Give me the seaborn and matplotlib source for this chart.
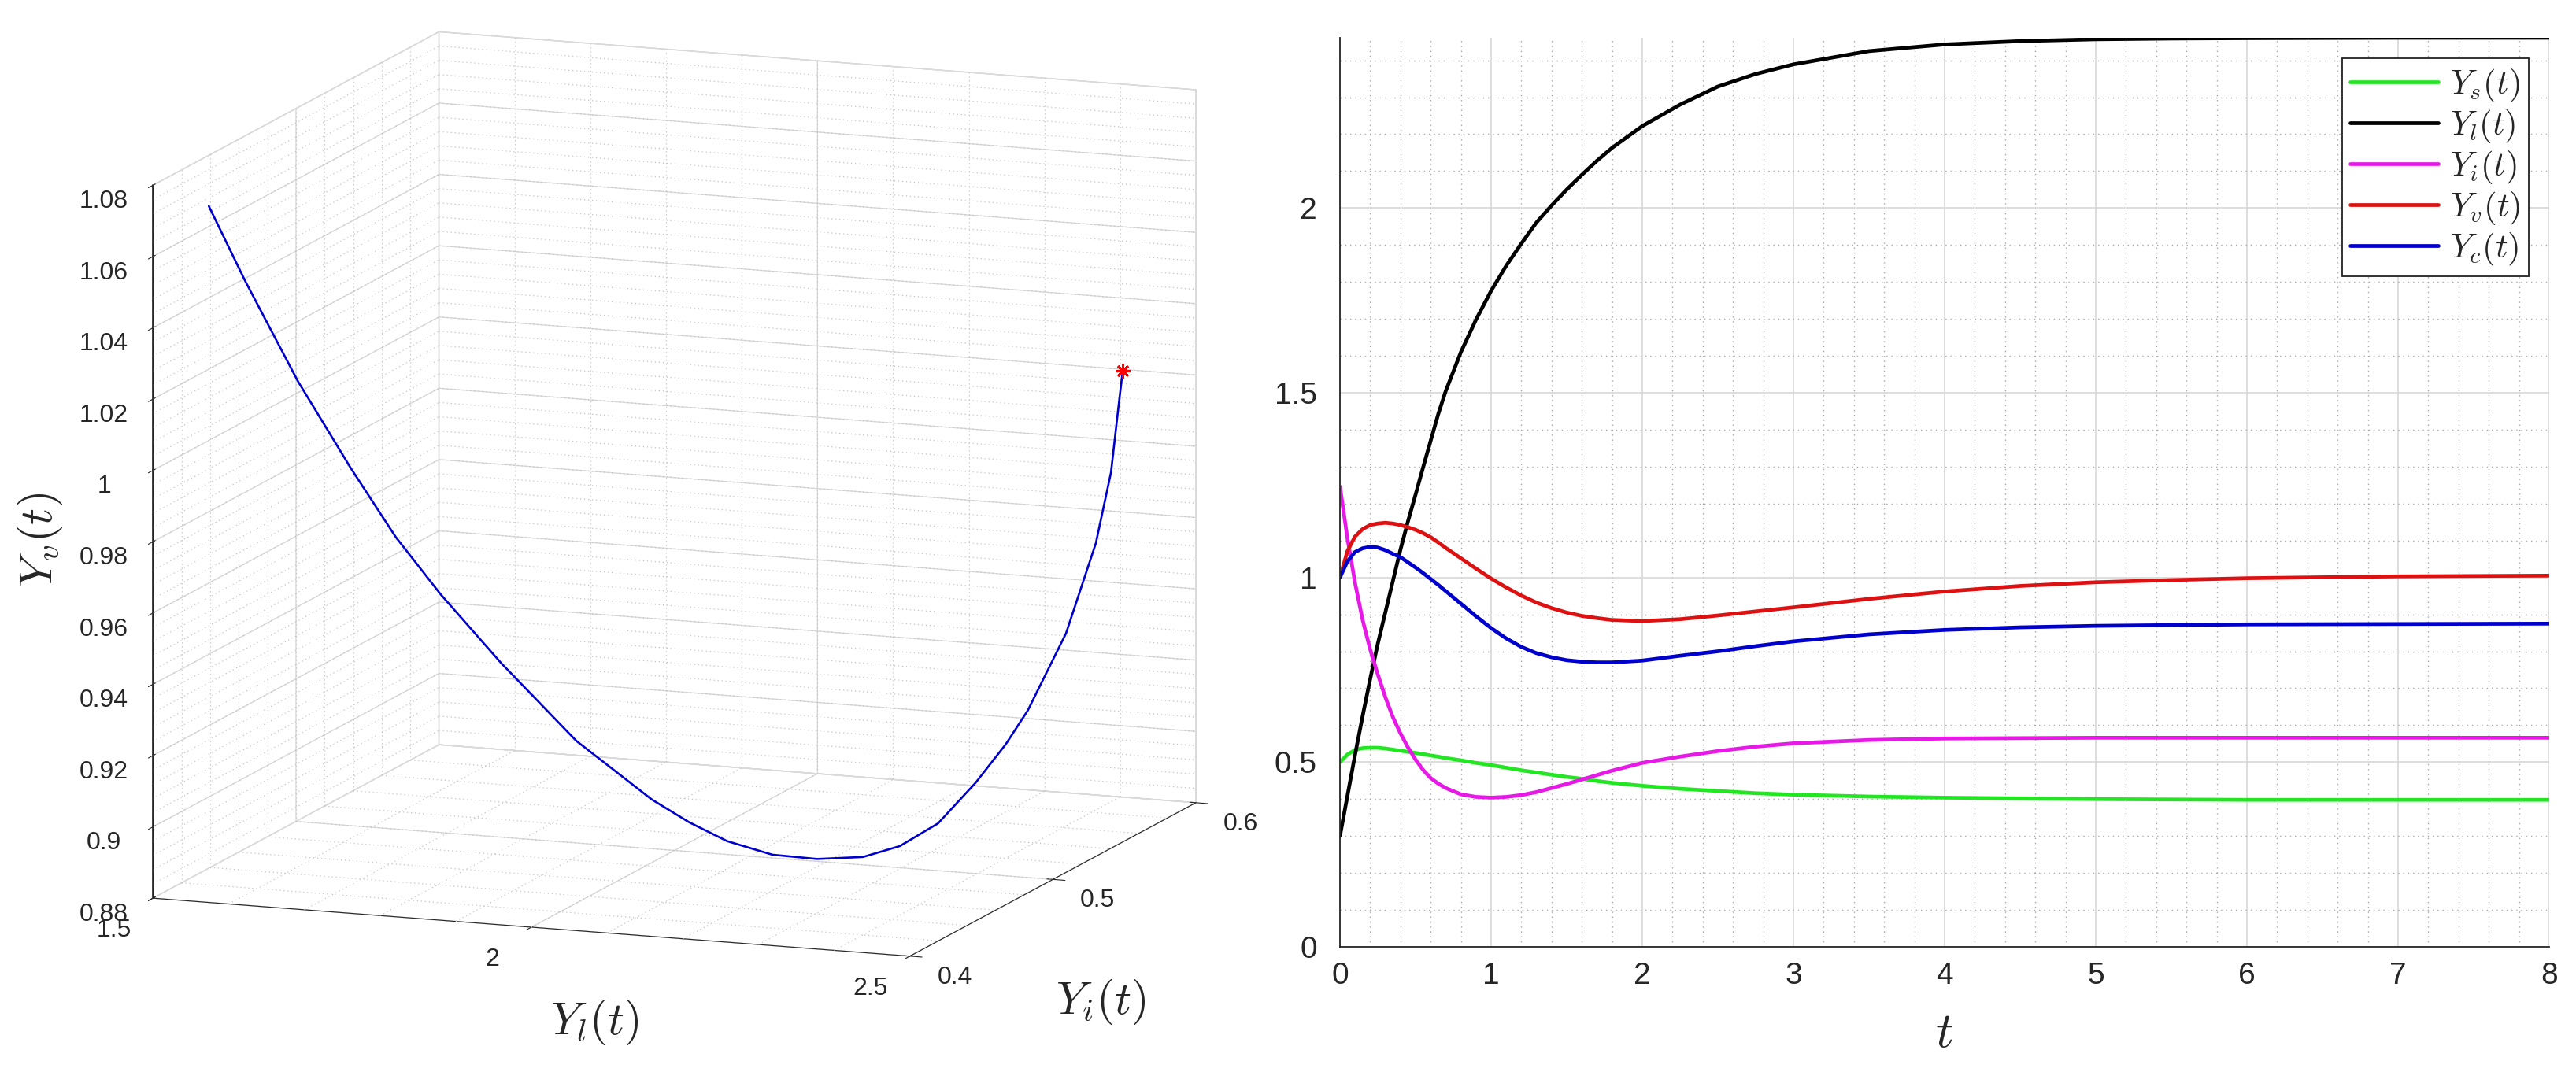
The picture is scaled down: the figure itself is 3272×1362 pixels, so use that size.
import numpy as np
import pandas as pd
import matplotlib
matplotlib.use("Agg")
import matplotlib.pyplot as plt
from matplotlib.ticker import AutoMinorLocator
from mpl_toolkits.mplot3d import proj3d
import seaborn as sns

# ---- time series ----
t = [0, 0.05, 0.1, 0.15, 0.2, 0.25, 0.3, 0.35, 0.4, 0.45, 0.5, 0.55, 0.6, 0.65, 0.7, 0.8, 0.9, 1.0,
     1.1, 1.2, 1.3, 1.4, 1.5, 1.6, 1.7, 1.8, 2.0, 2.25, 2.5, 2.75, 3.0, 3.5, 4.0, 4.5, 5.0, 5.5, 6.0, 7.0, 8.0]
y_s = [0.500, 0.521, 0.533, 0.538, 0.539, 0.539, 0.537, 0.534, 0.531, 0.528, 0.525, 0.522, 0.518, 0.515,
       0.511, 0.505, 0.498, 0.492, 0.485, 0.478, 0.472, 0.466, 0.460, 0.455, 0.449, 0.444, 0.436, 0.428,
       0.422, 0.416, 0.412, 0.407, 0.404, 0.402, 0.400, 0.399, 0.398, 0.398, 0.398]
y_l = [0.300, 0.410, 0.520, 0.625, 0.725, 0.820, 0.905, 0.990, 1.075, 1.152, 1.224, 1.298, 1.370, 1.442,
       1.505, 1.610, 1.698, 1.776, 1.844, 1.904, 1.961, 2.007, 2.050, 2.090, 2.128, 2.163, 2.222, 2.280,
       2.329, 2.363, 2.389, 2.425, 2.443, 2.452, 2.457, 2.459, 2.460, 2.461, 2.461]
y_i = [1.246, 1.105, 0.985, 0.885, 0.805, 0.738, 0.676, 0.622, 0.578, 0.540, 0.507, 0.479, 0.457, 0.442,
       0.430, 0.413, 0.406, 0.404, 0.406, 0.411, 0.419, 0.430, 0.441, 0.453, 0.465, 0.477, 0.498, 0.515,
       0.530, 0.542, 0.551, 0.560, 0.564, 0.565, 0.566, 0.566, 0.566, 0.566, 0.566]
y_v = [1.000, 1.072, 1.111, 1.131, 1.142, 1.146, 1.148, 1.146, 1.142, 1.136, 1.129, 1.120, 1.109, 1.095,
       1.080, 1.052, 1.024, 0.997, 0.973, 0.951, 0.932, 0.917, 0.905, 0.896, 0.890, 0.885, 0.882, 0.887,
       0.897, 0.908, 0.919, 0.942, 0.962, 0.977, 0.987, 0.993, 0.998, 1.003, 1.005]
y_c = [1.000, 1.044, 1.069, 1.079, 1.083, 1.081, 1.074, 1.064, 1.055, 1.041, 1.027, 1.012, 0.996, 0.980,
       0.963, 0.929, 0.895, 0.863, 0.835, 0.812, 0.795, 0.784, 0.776, 0.772, 0.770, 0.770, 0.775, 0.788,
       0.800, 0.814, 0.827, 0.846, 0.858, 0.865, 0.869, 0.871, 0.873, 0.874, 0.875]

labels = ['$Y_s(t)$', '$Y_l(t)$', '$Y_i(t)$', '$Y_v(t)$', '$Y_c(t)$']
colors = ['#22e622', '#000000', '#e619e6', '#dd1111', '#0000cc']
x_ticks = [0, 1, 2, 3, 4, 5, 6, 7, 8]
y_ticks = [0, 0.5, 1, 1.5, 2]
y_tick_labels = ['0', '0.5', '1', '1.5', '2']

# ---- 3D trajectory ----
yl3 = [1.502, 1.565, 1.650, 1.731, 1.798, 1.861, 1.941, 2.029, 2.110, 2.146, 2.183, 2.224,
       2.264, 2.302, 2.328, 2.354, 2.379, 2.400, 2.414, 2.438, 2.451, 2.454, 2.458, 2.460]
yi3 = [0.438, 0.430, 0.422, 0.416, 0.412, 0.410, 0.410, 0.416, 0.426, 0.433, 0.440, 0.450,
       0.460, 0.472, 0.484, 0.497, 0.510, 0.520, 0.528, 0.542, 0.556, 0.565, 0.568, 0.570]
yv3 = [1.066, 1.0478, 1.0227, 1.001, 0.9836, 0.969, 0.951, 0.9293, 0.912, 0.9047, 0.8985, 0.8932,
       0.8905, 0.8891, 0.890, 0.894, 0.903, 0.912, 0.920, 0.939, 0.9615, 0.9795, 0.997, 1.007]
yl_ticks = [1.5, 2, 2.5]
yi_ticks = [0.4, 0.5, 0.6]
yv_ticks = [0.88, 0.90, 0.92, 0.94, 0.96, 0.98, 1.00, 1.02, 1.04, 1.06, 1.08]

sns.set_style("white")
plt.rcParams['font.family'] = ['Liberation Sans', 'DejaVu Sans']
plt.rcParams['mathtext.fontset'] = 'cm'
plt.rcParams['grid.color'] = '#dddddd'
plt.rcParams['grid.linewidth'] = 1.0

fig = plt.figure(figsize=(32.73, 13.62), dpi=100)

# ================= right panel =================
ax = fig.add_axes([1702 / 3273, 1 - 1203 / 1362, 1536 / 3273, 1155 / 1362])
df = pd.DataFrame({
    't': np.tile(t, 5),
    'value': np.concatenate([y_s, y_l, y_i, y_v, y_c]),
    'series': np.repeat(labels, len(t)),
})
sns.lineplot(data=df, x='t', y='value', hue='series', hue_order=labels,
             palette=dict(zip(labels, colors)), estimator=None, sort=False,
             linewidth=3.4, ax=ax)
ax.set_xlim(0, 8)
ax.set_ylim(0, 2.461)
ax.set_xticks(x_ticks)
ax.set_xticklabels([str(v) for v in x_ticks])
ax.set_yticks(y_ticks)
ax.set_yticklabels(y_tick_labels)
ax.xaxis.set_minor_locator(AutoMinorLocator(5))
ax.yaxis.set_minor_locator(AutoMinorLocator(5))
ax.set_axisbelow(True)
ax.grid(which='major', color='#d8d8d8', linewidth=1.2, linestyle='-')
ax.grid(which='minor', color='#a8a8a8', linewidth=1.0, linestyle=(0, (1, 3.5)))
ax.tick_params(which='major', direction='in', length=11, width=1.2,
               labelsize=28, labelcolor='#262626', color='#262626')
ax.tick_params(which='minor', length=0)
ax.tick_params(axis='x', pad=14)
ax.tick_params(axis='y', pad=21)
for side in ['top', 'right']:
    ax.spines[side].set_visible(False)
for side in ['left', 'bottom']:
    ax.spines[side].set_color('#262626')
    ax.spines[side].set_linewidth(1.3)
ax.set_xlabel('$t$', fontsize=46, labelpad=18)
ax.set_ylabel('')
ax.legend(loc='upper right', fontsize=31, frameon=True, fancybox=False,
          edgecolor='#222222', framealpha=1, handlelength=2.6,
          labelspacing=0.12, borderpad=0.25, handletextpad=0.35,
          borderaxespad=0.6)
ax.get_legend().get_frame().set_linewidth(1.3)

# ================= left panel (3D) =================
ax3 = fig.add_axes([20 / 3273, 35 / 1362, 0.5, 1.0], projection='3d', proj_type='ortho',
                   computed_zorder=False)
ax3.view_init(elev=11.7, azim=-69.3)
ax3.set_box_aspect((1, 1, 0.9), zoom=1.228)
ax3.set_xlim(1.5, 2.5)
ax3.set_ylim(0.4, 0.6)
ax3.set_zlim(0.88, 1.08)
for a in [ax3.xaxis, ax3.yaxis, ax3.zaxis]:
    a.set_pane_color((1, 1, 1, 1))
    a.pane.set_edgecolor('#cccccc')
    a._axinfo['grid']['color'] = '#dadada'
    a._axinfo['grid']['linewidth'] = 1.0
    a._axinfo['axisline']['color'] = '#262626'
ax3.zaxis.set_ticks_position('lower')
ax3.zaxis.set_label_position('lower')

# minor dotted grid on the three back panes
minor_kw = dict(color='#c4c4c4', linewidth=0.9, linestyle=(0, (1, 3)), zorder=1)
for v in np.arange(1.6, 2.45, 0.1):
    ax3.plot([v, v], [0.6, 0.6], [0.88, 1.08], **minor_kw)
    ax3.plot([v, v], [0.4, 0.6], [0.88, 0.88], **minor_kw)
for v in np.arange(0.42, 0.595, 0.02):
    ax3.plot([1.5, 1.5], [v, v], [0.88, 1.08], **minor_kw)
    ax3.plot([1.5, 2.5], [v, v], [0.88, 0.88], **minor_kw)
for v in np.arange(0.884, 1.0799, 0.004):
    ax3.plot([1.5, 2.5], [0.6, 0.6], [v, v], **minor_kw)
    ax3.plot([1.5, 1.5], [0.4, 0.6], [v, v], **minor_kw)

# front-left vertical edge carries the z axis
ax3.plot([1.5, 1.5], [0.4, 0.4], [0.88, 1.08], color='#262626', linewidth=1.2, zorder=2)

ax3.plot(yl3, yi3, yv3, color='#0000cc', linewidth=1.9, zorder=5)
ax3.plot([yl3[-1]], [yi3[-1]], [yv3[-1]], linestyle='none', marker=(8, 2, 0),
         markersize=13, markeredgewidth=2.2, color='red', zorder=6)

ax3.set_xticks(yl_ticks)
ax3.set_xticklabels([''] * len(yl_ticks))
ax3.set_yticks(yi_ticks)
ax3.set_yticklabels([''] * len(yi_ticks))
ax3.set_zticks(yv_ticks)
ax3.set_zticklabels([f"{v:g}" for v in yv_ticks])
ax3.tick_params(labelsize=23, labelcolor='#262626')
ax3.tick_params(axis='z', pad=16)
ax3.set_xlabel('')
ax3.set_ylabel('')
ax3.set_zlabel('')

# floor tick labels, placed next to their tick the way MATLAB does
M = ax3.get_proj()
for v in yl_ticks:
    px, py, _ = proj3d.proj_transform(v, 0.4, 0.88, M)
    ax3.annotate(f"{v:g}", (px, py), xytext=(-50, -41), textcoords='offset pixels',
                 ha='center', va='center', fontsize=23, color='#262626',
                 annotation_clip=False)
for v in yi_ticks:
    px, py, _ = proj3d.proj_transform(2.5, v, 0.88, M)
    ax3.annotate(f"{v:g}", (px, py), xytext=(57, -27), textcoords='offset pixels',
                 ha='center', va='center', fontsize=23, color='#262626',
                 annotation_clip=False)

fig.text(51 / 3273, 1 - 686 / 1362, '$Y_v(t)$', fontsize=42, rotation=90,
         ha='center', va='center')
fig.text(755 / 3273, 1 - 1299 / 1362, '$Y_l(t)$', fontsize=42,
         ha='center', va='center')
fig.text(1398 / 3273, 1 - 1273 / 1362, '$Y_i(t)$', fontsize=42,
         ha='center', va='center')

fig.savefig('out.png', dpi=100)
